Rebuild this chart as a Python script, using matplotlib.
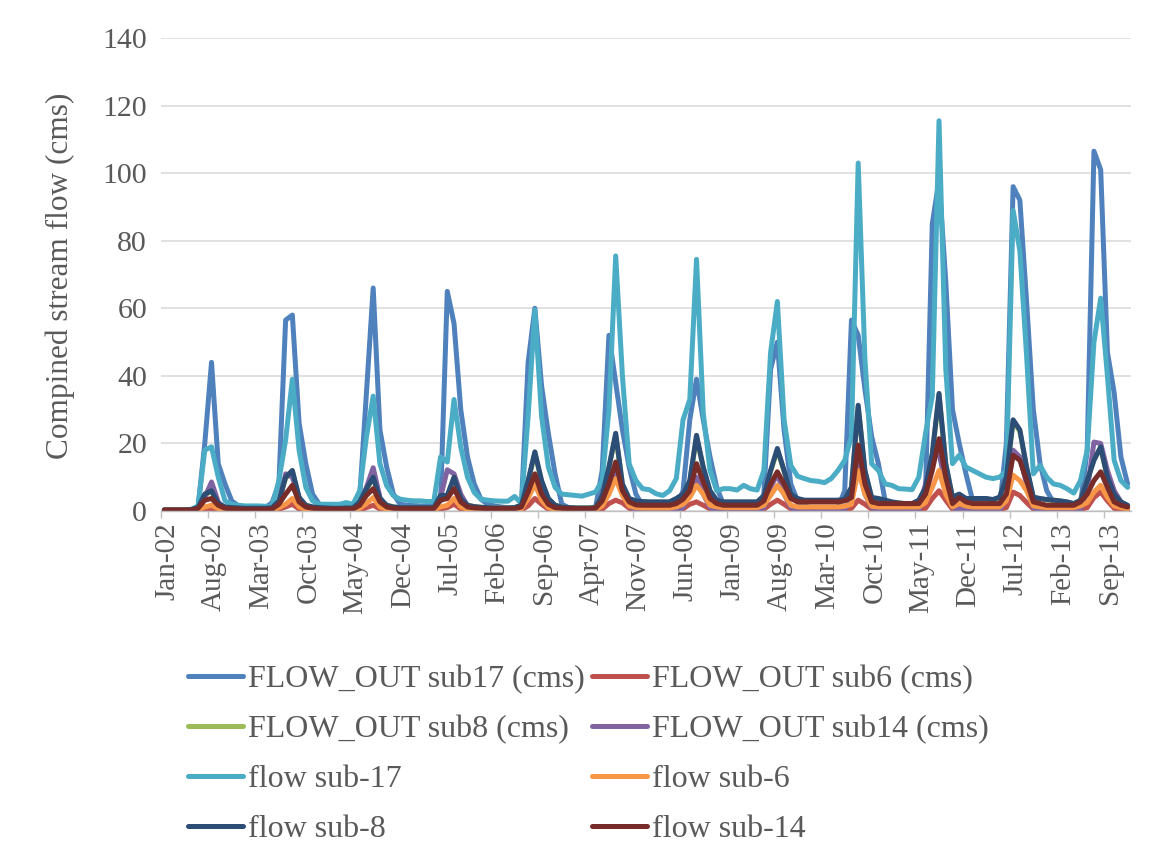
import numpy as np
import pandas as pd
import matplotlib
matplotlib.use("Agg")
import matplotlib.pyplot as plt

# ------------------------------------------------
# Monthly data, Jan-2002 .. Dec-2013 (one row per year)
# ------------------------------------------------
flow_out_sub17 = [
    0.3, 0.3, 0.3, 0.3, 0.4, 1.0, 20, 44, 14, 8, 3, 1.5,
    1.3, 1.2, 1.1, 1.0, 2.5, 8, 56.5, 58, 26, 14, 5, 2,
    1.5, 1.3, 1.2, 1.2, 1.2, 4, 35, 66, 24, 13, 5, 2,
    1.7, 1.6, 1.5, 1.5, 1.5, 3, 65, 55.5, 30, 16, 8, 3.5,
    2, 1.5, 1.2, 1.0, 1.0, 1.5, 44, 60, 37, 23, 11, 2,
    1.0, 0.8, 0.7, 0.7, 0.8, 12, 52, 38, 24, 13, 5, 1.5,
    1.0, 0.8, 0.7, 0.7, 1.0, 6, 27, 39, 27, 16, 7, 2,
    0.7, 0.6, 0.6, 0.6, 1.0, 5, 42, 50, 24, 8, 3, 1.5,
    1.0, 0.9, 0.8, 0.8, 1.0, 6, 56.5, 52, 36, 22, 14, 3,
    1.0, 0.8, 0.7, 0.7, 1.0, 6, 85, 98, 68, 30, 20, 11,
    3, 1.5, 1.2, 1.0, 1.0, 20, 96, 92, 62, 30, 14, 6,
    2.5, 1.5, 1.2, 1.0, 2, 18, 106.5, 101, 47, 35, 16, 8,
]
flow_out_sub6 = [
    0.1, 0.1, 0.1, 0.1, 0.1, 0.2, 0.5, 0.7, 0.3, 0.2, 0.1, 0.1,
    0.1, 0.1, 0.1, 0.1, 0.1, 0.5, 1.2, 2, 0.6, 0.2, 0.1, 0.1,
    0.1, 0.1, 0.1, 0.1, 0.1, 0.3, 1.0, 1.7, 0.6, 0.2, 0.1, 0.1,
    0.1, 0.1, 0.1, 0.1, 0.1, 0.6, 1.0, 2, 0.6, 0.2, 0.1, 0.1,
    0.1, 0.1, 0.1, 0.1, 0.1, 0.3, 1.5, 3.7, 2, 0.5, 0.2, 0.1,
    0.1, 0.1, 0.1, 0.1, 0.1, 0.5, 2.2, 3.2, 2.4, 0.8, 0.3, 0.2,
    0.2, 0.2, 0.2, 0.2, 0.3, 0.6, 2, 2.7, 1.7, 0.6, 0.3, 0.2,
    0.2, 0.2, 0.2, 0.2, 0.2, 0.5, 2, 3.2, 2, 0.6, 0.3, 0.3,
    0.3, 0.3, 0.3, 0.3, 0.3, 0.4, 0.8, 3.2, 2, 0.5, 0.3, 0.3,
    0.3, 0.3, 0.3, 0.3, 0.3, 0.8, 3.7, 6, 3.2, 0.5, 0.8, 0.5,
    0.4, 0.3, 0.3, 0.3, 0.3, 1.0, 5.6, 4.6, 2.5, 0.6, 0.4, 0.3,
    0.3, 0.3, 0.3, 0.3, 0.5, 1.0, 4, 5.6, 3, 0.8, 0.4, 0.3,
]
# sub8 sits almost exactly under "flow sub-8" and is hidden by it in the original
flow_out_sub8 = [
    0.3, 0.3, 0.3, 0.3, 0.4, 1.0, 4.8, 5.8, 2.1, 1.2, 1.0, 0.9,
    0.8, 0.8, 0.8, 0.8, 1.0, 2.9, 9.7, 11.7, 3.9, 1.7, 1.2, 1.0,
    0.9, 0.8, 0.8, 0.9, 0.9, 2.6, 6.4, 9.7, 3.6, 1.7, 1.2, 1.0,
    1.0, 1.0, 1.0, 1.0, 1.0, 4.5, 4.5, 9.7, 3.6, 1.7, 1.3, 1.1,
    1.0, 0.9, 0.9, 0.9, 1.0, 1.7, 8.7, 17.1, 8.7, 3.6, 1.7, 1.2,
    1.0, 0.9, 0.9, 0.9, 1.0, 4.5, 12.7, 22.6, 7.7, 3.6, 2.9, 2.7,
    2.6, 2.6, 2.6, 2.6, 3.6, 4.9, 8.7, 22, 12.7, 5.8, 3.1, 2.6,
    2.6, 2.6, 2.6, 2.6, 2.6, 4.4, 11.7, 18.1, 11.7, 4.9, 3.6, 3.1,
    3.1, 3.1, 3.1, 3.1, 3.1, 3.4, 6.8, 30.8, 11.7, 3.9, 3.6, 3.1,
    2.6, 2.3, 2.1, 2.1, 3.1, 6.8, 16.6, 34.3, 13.7, 4.0, 4.9, 3.6,
    3.6, 3.6, 3.6, 3.3, 4.0, 9.7, 26.6, 23.6, 12.7, 4.0, 3.6, 3.3,
    3.1, 2.9, 2.6, 2.1, 3.1, 8.7, 15.5, 18.6, 9.7, 4.9, 2.6, 1.6,
]
flow_out_sub14 = [
    0, 0, 0, 0, 0, 0.2, 4, 8.6, 2.7, 0.5, 0.2, 0.1,
    0.1, 0.1, 0.1, 0.1, 0.1, 2, 11, 10, 4, 1, 0.3, 0.1,
    0.1, 0.1, 0.1, 0.1, 0.1, 1.5, 7, 12.8, 4, 1, 0.3, 0.1,
    0.1, 0.1, 0.1, 0.1, 0.1, 4, 12.2, 11, 5, 1.5, 0.3, 0.1,
    0.1, 0.1, 0.1, 0.1, 0.1, 0.5, 7, 10, 6, 2, 0.3, 0.1,
    0.1, 0.1, 0.1, 0.1, 0.1, 2, 8, 12, 5, 1.5, 0.3, 0.1,
    0, 0, 0, 0, 0, 1, 6, 10, 5, 1, 0.2, 0,
    0, 0, 0, 0, 0, 1, 7, 11, 5, 1, 0.2, 0,
    0, 0, 0, 0, 0, 0.5, 3, 15, 5, 1, 0.2, 0,
    0, 0, 0, 0, 0, 8, 16, 17, 8, 1, 0.5, 0.2,
    0.1, 0.1, 0.1, 0.1, 0.1, 4, 18, 16, 8, 1, 0.3, 0.1,
    0.1, 0.1, 0.1, 0.1, 0.5, 6, 20.4, 20, 12, 6, 2.7, 1,
]
flow_sub17 = [
    0.3, 0.3, 0.3, 0.3, 0.5, 1.5, 18, 19, 10, 3, 2, 1.7,
    1.5, 1.5, 1.5, 1.4, 1.5, 9, 21, 39, 18, 7, 3, 2,
    2, 2, 2, 2.5, 2, 6, 22, 34, 14, 7.5, 4.5, 3.5,
    3.2, 3, 3, 2.8, 2.8, 16, 14.5, 33, 19, 10, 5.5, 3.5,
    3.2, 3, 2.9, 2.9, 4.3, 2.2, 28, 59.5, 28, 13, 7, 5,
    4.8, 4.6, 4.4, 5, 5.6, 9, 30, 75.5, 40, 14, 9, 6.6,
    6.3, 5.1, 4.6, 6, 9.6, 27, 33, 74.5, 29, 12, 6, 6.6,
    6.6, 6.2, 7.6, 6.6, 6.2, 12, 47, 62, 27, 13.5, 10.3, 9.6,
    9, 8.8, 8.4, 9.6, 12, 15, 22, 103, 45, 14, 12, 8,
    7.6, 6.6, 6.5, 6.3, 10, 23, 34, 115.5, 42, 14, 16.5, 13,
    12, 11, 10, 9.6, 10, 12, 89, 77, 46, 11, 13.5, 10,
    8, 7.6, 6.6, 5.3, 9, 18, 50, 63, 40, 15, 9, 7,
]
flow_sub6 = [
    0.2, 0.2, 0.2, 0.2, 0.2, 0.4, 1.2, 1.7, 0.7, 0.4, 0.3, 0.3,
    0.3, 0.3, 0.3, 0.3, 0.3, 1.0, 2, 3.7, 1.2, 0.5, 0.4, 0.3,
    0.3, 0.3, 0.3, 0.3, 0.3, 0.8, 2.2, 4, 1.2, 0.5, 0.4, 0.3,
    0.3, 0.3, 0.3, 0.3, 0.3, 1.2, 1.7, 3.7, 1.2, 0.5, 0.4, 0.3,
    0.3, 0.3, 0.3, 0.3, 0.3, 0.6, 3.7, 8, 3.2, 1.0, 0.5, 0.4,
    0.4, 0.4, 0.4, 0.4, 0.4, 1.5, 5, 9.6, 4.6, 1.5, 1.0, 0.9,
    0.9, 0.9, 0.9, 0.9, 1.2, 2, 4, 7.6, 5, 1.7, 1.2, 1.0,
    1.0, 1.0, 1.0, 1.0, 1.0, 1.7, 4.6, 7.6, 5, 1.7, 1.2, 1.2,
    1.2, 1.2, 1.2, 1.2, 1.2, 1.4, 2, 12, 5, 1.4, 1.2, 1.2,
    1.2, 1.2, 1.2, 1.2, 1.2, 2.5, 7, 12, 5, 1.2, 2.2, 1.5,
    1.2, 1.2, 1.2, 1.2, 1.2, 3, 10.6, 9, 6, 1.5, 1.2, 1.0,
    1.0, 1.0, 1.0, 1.0, 1.5, 2.5, 5.6, 7.6, 4, 1.5, 1.0, 0.7,
]
flow_sub8 = [
    0.3, 0.3, 0.3, 0.3, 0.4, 1.0, 5, 6, 2.2, 1.2, 1.0, 0.9,
    0.8, 0.8, 0.8, 0.8, 1.0, 3, 10, 12, 4, 1.7, 1.2, 1.0,
    0.9, 0.8, 0.8, 0.9, 0.9, 2.7, 6.6, 10, 3.7, 1.7, 1.2, 1.0,
    1.0, 1.0, 1.0, 1.0, 1.0, 4.6, 4.6, 10, 3.7, 1.7, 1.3, 1.1,
    1.0, 0.9, 0.9, 0.9, 1.0, 1.7, 9, 17.5, 9, 3.7, 1.7, 1.2,
    1.0, 0.9, 0.9, 0.9, 1.0, 4.6, 13, 23, 8, 3.7, 3, 2.8,
    2.7, 2.7, 2.7, 2.7, 3.7, 5, 9, 22.4, 13, 6, 3.2, 2.7,
    2.7, 2.7, 2.7, 2.7, 2.7, 4.5, 12, 18.5, 12, 5, 3.7, 3.2,
    3.2, 3.2, 3.2, 3.2, 3.2, 3.5, 7, 31.3, 12, 4, 3.7, 3.2,
    2.7, 2.4, 2.2, 2.2, 3.2, 7, 17, 34.8, 14, 4.1, 5, 3.7,
    3.7, 3.7, 3.7, 3.4, 4.1, 10, 27, 24, 13, 4.1, 3.7, 3.4,
    3.2, 3.0, 2.7, 2.2, 3.2, 9, 15, 19, 10, 5, 2.7, 1.7,
]
flow_sub14 = [
    0.3, 0.3, 0.3, 0.3, 0.3, 0.8, 3.2, 3.7, 1.7, 0.8, 0.7, 0.6,
    0.5, 0.5, 0.5, 0.5, 0.6, 2, 5, 7.6, 2.7, 1.2, 0.8, 0.7,
    0.6, 0.6, 0.6, 0.6, 0.6, 1.7, 4.6, 6.6, 2.7, 1.2, 0.8, 0.7,
    0.7, 0.7, 0.7, 0.7, 0.7, 3.2, 3.7, 6.6, 2.7, 1.2, 0.9, 0.8,
    0.7, 0.7, 0.7, 0.7, 0.7, 1.2, 5.6, 11, 5, 2, 1.0, 0.8,
    0.7, 0.7, 0.7, 0.7, 0.8, 3, 8, 14.5, 6, 2.7, 1.8, 1.7,
    1.7, 1.7, 1.7, 1.7, 2.2, 3.5, 6, 14, 8.6, 3.7, 2.2, 1.7,
    1.7, 1.7, 1.7, 1.7, 1.7, 3, 8, 11.6, 8, 3.7, 2.7, 2.7,
    2.7, 2.7, 2.7, 2.7, 2.7, 3, 4, 19.5, 8, 2.7, 2.2, 2.2,
    2.2, 2.2, 2.2, 2.2, 2.2, 5, 12, 21.4, 10, 2.2, 4, 2.7,
    2.2, 2.2, 2.2, 2.2, 2.2, 5, 16.5, 15, 9, 2.7, 2.2, 1.7,
    1.7, 1.7, 1.7, 1.7, 2.7, 5, 9, 11.6, 7, 2.7, 1.7, 1.2,
]

series_names = [
    "FLOW_OUT sub17 (cms)", "FLOW_OUT sub6 (cms)", "FLOW_OUT sub8 (cms)",
    "FLOW_OUT sub14 (cms)", "flow sub-17", "flow sub-6", "flow sub-8", "flow sub-14",
]
series_values = [
    flow_out_sub17, flow_out_sub6, flow_out_sub8, flow_out_sub14,
    flow_sub17, flow_sub6, flow_sub8, flow_sub14,
]
series_colors = [
    "#4F81BD", "#C0504D", "#9BBB59", "#8064A2",
    "#4BACC6", "#F79646", "#2C4D75", "#772C2A",
]

months = pd.date_range("2002-01-01", periods=len(flow_sub17), freq="MS")
month_labels = months.strftime("%b-%y")
label_step = 7

# ------------------------------------------------
# Figure
# ------------------------------------------------
plt.rcParams["font.family"] = ["Liberation Serif", "DejaVu Serif"]
text_color = "#595959"

fig = plt.figure(figsize=(11.57, 8.61), dpi=100)
ax = fig.add_axes([161 / 1157, 350 / 861, 970 / 1157, 473 / 861])

x = np.arange(len(months))
handles = []
for name, vals, col in zip(series_names, series_values, series_colors):
    h, = ax.plot(x, vals, color=col, lw=3.6, label=name,
                 solid_joinstyle="round", solid_capstyle="round")
    handles.append(h)

ax.set_xlim(-0.5, len(months) - 0.5)
ax.set_ylim(0, 140)
ax.set_yticks(range(0, 141, 20))
ax.grid(axis="y", color="#D9D9D9", lw=1.1)
ax.set_axisbelow(True)

ax.set_xticks(x[::label_step] + 0.4)
ax.set_xticklabels(month_labels[::label_step], rotation=90, va="top", ha="center")
ax.set_xticks(np.arange(-0.5, len(months), label_step), minor=True)
ax.tick_params(axis="x", which="major", length=0, pad=8, labelsize=21, labelcolor=text_color)
ax.tick_params(axis="x", which="minor", length=5, width=1, color="#BFBFBF")
ax.tick_params(axis="y", length=0, pad=10, labelsize=21.5, labelcolor=text_color)

for side in ["left", "right", "top"]:
    ax.spines[side].set_visible(False)
ax.spines["bottom"].set_color("#BFBFBF")
ax.spines["bottom"].set_linewidth(1)

fig.text(60 / 1157, (861 - 276) / 861, "Compined stream flow (cms)", rotation=90,
         ha="center", va="center", fontsize=22.5, color=text_color)

# Excel lays the legend out row by row, matplotlib column by column
order = [0, 2, 4, 6, 1, 3, 5, 7]
leg = fig.legend([handles[i] for i in order], [series_names[i] for i in order],
                 ncol=2, loc="upper left", bbox_to_anchor=(188 / 1157, (861 - 665) / 861),
                 frameon=False, fontsize=23, handlelength=1.72, handletextpad=0.16,
                 columnspacing=0.22, labelspacing=0.64, borderpad=0, borderaxespad=0)
for t in leg.get_texts():
    t.set_color(text_color)

fig.savefig("out.png", dpi=100)
